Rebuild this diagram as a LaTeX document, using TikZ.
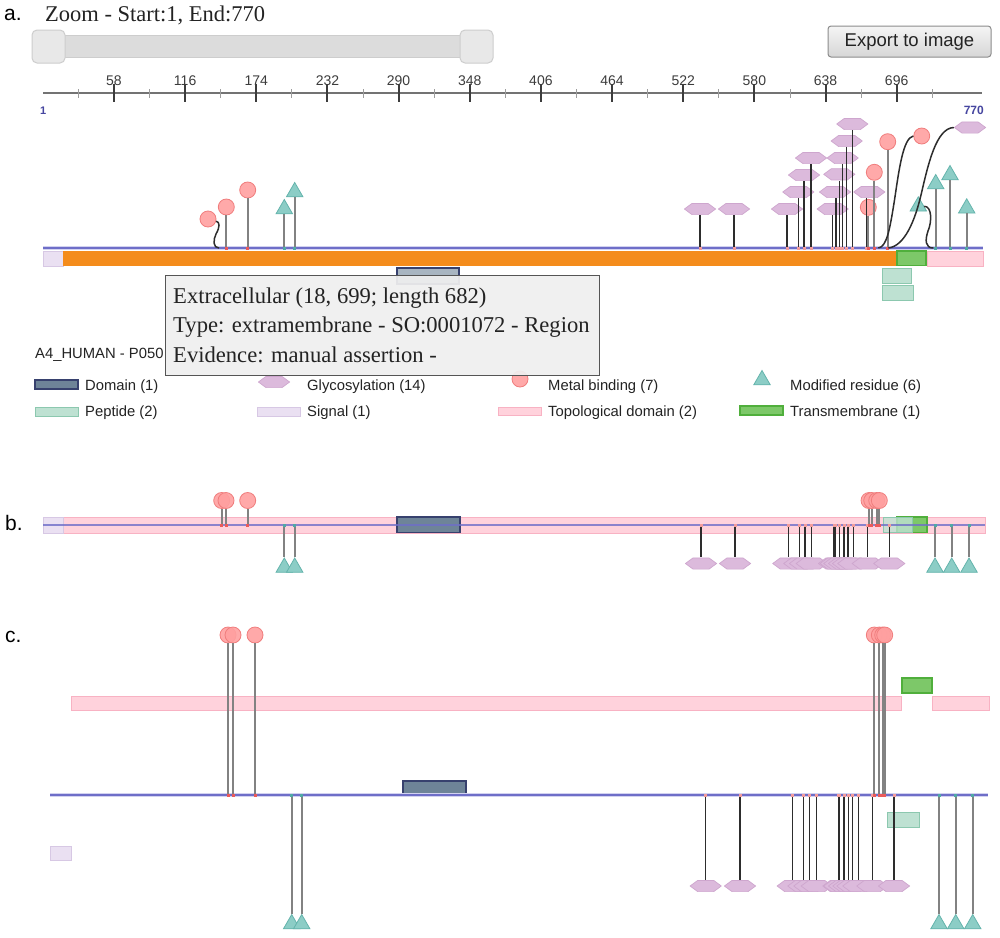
\documentclass[tikz,border=0pt]{standalone}
\usepackage{fontspec}
\setmainfont{Liberation Serif}
\setsansfont{Liberation Sans}
\usetikzlibrary{shapes.geometric}
\definecolor{orangebar}{RGB}{244,140,28}
\definecolor{seqlinec}{RGB}{110,110,200}
\definecolor{seqhaloc}{RGB}{210,210,240}
\definecolor{topofill}{RGB}{255,210,220}
\definecolor{topodraw}{RGB}{248,178,195}
\definecolor{tmfill}{RGB}{125,200,105}
\definecolor{tmdraw}{RGB}{80,175,60}
\definecolor{pepfill}{RGB}{190,225,210}
\definecolor{pepdraw}{RGB}{140,200,175}
\definecolor{sigfill}{RGB}{234,224,242}
\definecolor{sigdraw}{RGB}{215,200,228}
\definecolor{domfill}{RGB}{110,132,152}
\definecolor{domdraw}{RGB}{55,65,110}
\definecolor{glyfill}{RGB}{220,186,220}
\definecolor{glydraw}{RGB}{206,166,206}
\definecolor{metfill}{RGB}{255,160,160}
\definecolor{metdraw}{RGB}{240,125,125}
\definecolor{modfill}{RGB}{140,205,198}
\definecolor{moddraw}{RGB}{100,180,172}
\definecolor{stemgrey}{RGB}{130,130,130}
\definecolor{stemdark}{RGB}{45,45,45}
\definecolor{tipfill}{RGB}{239,239,239}
\definecolor{tipdraw}{RGB}{85,85,85}
\definecolor{rulerc}{RGB}{115,115,115}
\definecolor{tickc}{RGB}{60,60,60}
\definecolor{endlab}{RGB}{70,70,160}
\definecolor{handlefill}{RGB}{232,232,232}
\definecolor{handledraw}{RGB}{205,205,205}
\definecolor{trackfill}{RGB}{220,220,220}
\definecolor{btndraw}{RGB}{140,140,140}
\definecolor{markred}{RGB}{235,90,90}
\definecolor{markteal}{RGB}{80,170,165}
\definecolor{textc}{RGB}{35,35,35}
\begin{document}
\begin{tikzpicture}[x=1pt,y=-1pt,
  metal/.style={circle,minimum size=16pt,inner sep=0pt,fill=metfill,draw=metdraw,line width=0.8pt,fill opacity=0.9},
  modres/.style={regular polygon,regular polygon sides=3,minimum size=19pt,inner sep=0pt,fill=modfill,draw=moddraw,line width=0.8pt},
  glyco/.style={rectangle,minimum width=32pt,minimum height=12pt,inner sep=0pt,
    path picture={\filldraw[fill=glyfill,draw=glydraw,line width=0.7pt]
      ([xshift=0.4pt]path picture bounding box.west)
      -- ([xshift=8pt,yshift=-0.4pt]path picture bounding box.north west)
      -- ([xshift=-8pt,yshift=-0.4pt]path picture bounding box.north east)
      -- ([xshift=-0.4pt]path picture bounding box.east)
      -- ([xshift=-8pt,yshift=0.4pt]path picture bounding box.south east)
      -- ([xshift=8pt,yshift=0.4pt]path picture bounding box.south west) -- cycle;}},
  gstem/.style={draw=stemdark,line width=1.5pt},
  pstem/.style={draw=stemgrey,line width=2pt},
  seqhalo/.style={draw=seqhaloc,line width=4pt},
  seq/.style={draw=seqlinec,line width=1.6pt},
  topo/.style={fill=topofill,draw=topodraw,line width=1pt},
  tm/.style={fill=tmfill,draw=tmdraw,line width=1.2pt},
  pep/.style={fill=pepfill,draw=pepdraw,line width=1pt},
  sig/.style={fill=sigfill,draw=sigdraw,line width=1pt},
  dom/.style={fill=domfill,draw=domdraw,line width=1.5pt},
  lab/.style={font=\fontsize{14.8}{16}\sffamily,anchor=west,inner sep=0pt,text=textc},
  panel/.style={font=\fontsize{21}{24}\sffamily,anchor=west,inner sep=0pt,text=black},
  ticklab/.style={font=\fontsize{14}{15}\sffamily,inner sep=0pt,text=tickc},
  tiptext/.style={font=\fontsize{22.6}{26}\selectfont,anchor=west,inner sep=0pt,text=textc},
  handle/.style={draw=handledraw,fill=handlefill,rounded corners=5pt,line width=1pt,minimum width=33pt,minimum height=33pt,inner sep=0pt}
]
\useasboundingbox (0,0) rectangle (1000,937);
\fill[white] (0,0) rectangle (1000,937);

% ---------- header ----------
\node[panel] (pa) at (4,15) {a.};
\node[font=\fontsize{22.5}{26}\selectfont,anchor=west,inner sep=0pt,text=textc] (title) at (45,15) {Zoom - Start:1, End:770};
\fill[trackfill,draw=handledraw,line width=1pt] (62,35) rectangle (462,57);
\node[handle] (hl) at (48.5,46.5) {};
\node[handle] (hr) at (476.5,46.5) {};
\node[draw=btndraw,rounded corners=3pt,top color=white!96!black,bottom color=white!84!black,line width=1pt,minimum width=163pt,minimum height=31pt,inner sep=0pt,font=\fontsize{18.5}{20}\sffamily,text=textc] (export) at (909.5,41.5) {Export to image};

% ---------- ruler ----------
\draw[rulerc,line width=2pt] (43,93) -- (982,93);
\foreach \k in {0,...,12}{
  \pgfmathsetmacro\xx{78.5+\k*71.15}
  \draw[rulerc!70,line width=1pt] (\xx,89) -- (\xx,98);
}
\foreach \v [count=\k from 0] in {58,116,174,232,290,348,406,464,522,580,638,696}{
  \pgfmathsetmacro\xx{114+\k*71.15}
  \draw[tickc,line width=2pt] (\xx,84) -- (\xx,102);
  \node[ticklab] (t\v) at (\xx,81) {\v};
}
\node[font=\fontsize{11}{12}\sffamily\bfseries,text=endlab,anchor=west,inner sep=0pt] (one) at (40,111) {1};
\node[font=\fontsize{12}{13}\sffamily\bfseries,text=endlab,anchor=east,inner sep=0pt] (end) at (984,110) {770};

% ---------- panel a ----------
\draw[sig] (43,251) rectangle (63,266);
\fill[orangebar] (63,250.5) rectangle (896,266);
\draw[tm] (897,251) rectangle (926,265.5);
\draw[topo] (927,251) rectangle (983,266);
\draw[pep] (882,268) rectangle (911,283);
\draw[pep] (882,285) rectangle (913,300);
\draw[dom,fill opacity=0.6] (397,268) rectangle (459,284);
\draw[seqhalo] (43,248) -- (983,248);
\draw[seq] (43,248) -- (983,248);

% glycosylation heads (a)
\foreach \hx/\hy [count=\i] in {700/209,734/209,787/209,798.3/192,804/175,811/158,832.7/209,835/192,839.3/174.3,842.7/158,846.7/141,852.3/124,869.3/192}{
  \node[glyco] (GA\i) at (\hx,\hy) {};
}
\node[glyco] (GA14) at (970,127.5) {};
% metal heads (a)
\foreach \hx/\hy [count=\i] in {208/219,226.3/207,247.7/190,868.3/207.3,874.3/172.3,887.7/141.7,921.7/136}{
  \node[metal] (MA\i) at (\hx,\hy) {};
}
% modified heads (a)
\foreach \hx/\hy [count=\i] in {284.3/209,294.7/192,918.3/206.3,935.7/184,950/175,966.7/208.3}{
  \node[modres] (TA\i) at (\hx,\hy) {};
}
% stems (a)
\foreach \sx [count=\i] in {700,734,787,798.3,804,811,832.7,836,839.3,842.7,846.7,852.3,866.7}{
  \coordinate (ga\i) at (\sx,248);
  \draw[gstem] (ga\i) -- (ga\i |- GA\i.south);
  \fill[markred!60] (\sx-1.5,246.5) rectangle (\sx+1.5,249.5);
}
\foreach \sx/\i in {226.3/2,247.7/3,868.3/4,874.3/5,887.7/6}{
  \coordinate (ma\i) at (\sx,248);
  \draw[pstem] (ma\i) -- (MA\i.south);
  \fill[markred] (\sx-1.5,246.5) rectangle (\sx+1.5,249.5);
}
\foreach \sx/\i in {284.3/1,294.7/2,935.7/4,950/5,966.7/6}{
  \coordinate (ta\i) at (\sx,248);
  \draw[pstem] (ta\i) -- (TA\i.south);
  \fill[markteal] (\sx-1.5,246.5) rectangle (\sx+1.5,249.5);
}
\coordinate (ma1) at (219,248);
\draw[gstem] (ma1) .. controls (213,248) and (213,240) .. (216,234) .. controls (220,227) and (220,222) .. (MA1.-15);
\coordinate (ma7) at (878.3,248);
\draw[gstem] (ma7) .. controls (887,247) and (890,228) .. (894.5,200) .. controls (899,170) and (903,138) .. (MA7.west);
\coordinate (ga14) at (888.3,248);
\draw[gstem] (ga14) .. controls (905,246) and (915,220) .. (921,195) .. controls (928,165) and (936,128) .. (GA14.west);
\coordinate (ta3) at (933.3,248);
\draw[gstem] (ta3) .. controls (925,248) and (925,240) .. (928,231) .. controls (932,222) and (932,206) .. (TA3.east);

% ---------- legend ----------
\node[font=\fontsize{14.8}{16}\sffamily,anchor=west,inner sep=0pt,text=textc] (prot) at (35,355) {A4\_HUMAN - P050};
\draw[dom] (35,380) rectangle (78,389);
\node[lab] (lgdom) at (85,386.5) {Domain (1)};
\node[glyco] (LGgly) at (274,382) {};
\node[lab] (lggly) at (307,386.5) {Glycosylation (14)};
\node[metal] (LGmet) at (520,379) {};
\node[lab] (lgmet) at (548,386.5) {Metal binding (7)};
\node[modres] (LGmod) at (762,380) {};
\node[lab] (lgmod) at (790,386.5) {Modified residue (6)};
\draw[pep] (35,407) rectangle (78,416);
\node[lab] (lgpep) at (85,413) {Peptide (2)};
\draw[sig] (257,407) rectangle (300,416);
\node[lab] (lgsig) at (307,413) {Signal (1)};
\draw[topo] (498,407) rectangle (541,415);
\node[lab] (lgtop) at (548,413) {Topological domain (2)};
\draw[tm] (740,406) rectangle (783,415);
\node[lab] (lgtm) at (790,413) {Transmembrane (1)};

% ---------- tooltip ----------
\draw[fill=tipfill,fill opacity=0.93,draw=tipdraw,line width=1pt] (165,275) rectangle (599,375);
\node[tiptext] (tip1) at (173,298.5) {Extracellular (18, 699; length 682)};
\node[tiptext] (tip2) at (173,327) {Type: extramembrane - SO:0001072 - Region};
\node[tiptext] (tip3) at (173,355) {Evidence: manual assertion -};

% ---------- panel b ----------
\node[panel] (pb) at (5,523) {b.};
\draw[topo] (63,517) rectangle (985,533);
\draw[sig] (43,517) rectangle (63,533);
\draw[dom] (397,517) rectangle (460,532.5);
\draw[tm] (897,517) rectangle (927,532.5);
\draw[pep,fill opacity=0.8] (883,517) rectangle (912,532.5);
\draw[seq,opacity=0.8] (43,525) -- (985,525);
\foreach \hx [count=\i] in {701,735,788.3,799.3,805,811.7,834,835.7,839.3,844,848,853.3,867.7,889.3}{
  \node[glyco] (GB\i) at (\hx,563.5) {};
}
\foreach \hx [count=\i] in {701,735,788.3,799.3,805,811.7,834,835.7,839.3,844,848,853.3,867.7,889.3}{
  \coordinate (gb\i) at (\hx,525);
  \draw[gstem] (gb\i) -- (GB\i.north);
  \fill[markred!60] (\hx-1.5,523.5) rectangle (\hx+1.5,526.5);
}
\foreach \hx [count=\i] in {221.7,226,247.7,869,871.7,876.7,879.3}{
  \node[metal] (MB\i) at (\hx,500.5) {};
}
\foreach \hx [count=\i] in {221.7,226,247.7,869,871.7,876.7,879.3}{
  \coordinate (mb\i) at (\hx,525);
  \draw[pstem] (mb\i) -- (MB\i.south);
  \fill[markred] (\hx-1.5,523.5) rectangle (\hx+1.5,526.5);
}
\foreach \hx [count=\i] in {284.3,294.7,935,951.7,969}{
  \node[modres] (TB\i) at (\hx,567.5) {};
  \coordinate (tb\i) at (\hx,525);
  \draw[pstem] (tb\i) -- (TB\i.north);
  \fill[markteal] (\hx-1.5,523.5) rectangle (\hx+1.5,526.5);
}

% ---------- panel c ----------
\node[panel] (pc) at (5,637) {c.};
\draw[topo] (71,696) rectangle (901.7,710.7);
\draw[topo] (932.7,696) rectangle (989,710.7);
\draw[tm] (902,678) rectangle (932,693);
\draw[dom] (403,781) rectangle (466,795.5);
\draw[sig] (50.7,846) rectangle (71.7,860.7);
\draw[pep] (887.7,812) rectangle (919,827.7);
\draw[seqhalo] (50,795) -- (988,795);
\draw[seq] (50,795) -- (988,795);
\foreach \hx [count=\i] in {705.7,740,792.7,803.3,809.3,816.7,838.3,839.3,844,848.3,852.3,858.3,872.3,894}{
  \node[glyco] (GC\i) at (\hx,886) {};
}
\foreach \hx [count=\i] in {705.7,740,792.7,803.3,809.3,816.7,838.3,839.3,844,848.3,852.3,858.3,872.3,894}{
  \coordinate (gc\i) at (\hx,795);
  \draw[gstem] (gc\i) -- (GC\i.north);
  \fill[markred!60] (\hx-1.5,793.5) rectangle (\hx+1.5,796.5);
}
\foreach \hx [count=\i] in {228,233,255,874.3,879.3,882.7,884.7}{
  \node[metal] (MC\i) at (\hx,635) {};
}
\foreach \hx [count=\i] in {228,233,255,874.3,879.3,882.7,884.7}{
  \coordinate (mc\i) at (\hx,795);
  \draw[pstem] (mc\i) -- (MC\i.south);
  \fill[markred] (\hx-1.5,793.5) rectangle (\hx+1.5,796.5);
}
\foreach \hx [count=\i] in {291.7,301.7,939,955.7,972.7}{
  \node[modres] (TC\i) at (\hx,924) {};
  \coordinate (tc\i) at (\hx,795);
  \draw[pstem] (tc\i) -- (TC\i.north);
  \fill[markteal] (\hx-1.5,793.5) rectangle (\hx+1.5,796.5);
}
\end{tikzpicture}
\end{document}
